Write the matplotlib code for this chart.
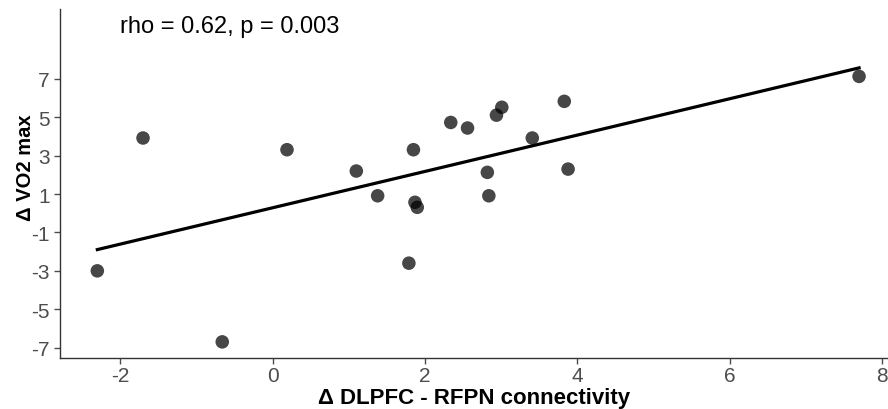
"""
Scatter of change in VO2 max against change in DLPFC - RFPN connectivity,
with a least squares line.
"""
import numpy as np
import matplotlib
matplotlib.use('Agg')
import matplotlib.pyplot as plt

plt.rcParams['font.family'] = ['Liberation Sans', 'DejaVu Sans']
plt.rcParams['axes.unicode_minus'] = False

# data
connectivity = [-2.30, -1.70, -0.66, 0.19, 1.10, 1.38, 1.85, 1.87, 1.90, 1.79,
                2.34, 2.56, 2.82, 2.84, 2.94, 3.01, 3.41, 3.83, 3.88, 7.70]
vo2_change = [-3.0, 3.92, -6.7, 3.31, 2.20, 0.91, 3.31, 0.57, 0.31, -2.6,
              4.73, 4.44, 2.13, 0.91, 5.11, 5.52, 3.92, 5.83, 2.30, 7.13]
x_ticks = [-2, 0, 2, 4, 6, 8]
y_ticks = [-7, -5, -3, -1, 1, 3, 5, 7]
stats_text = 'rho = 0.62, p = 0.003'

x = np.array(connectivity)
y = np.array(vo2_change)

# initialize figure
fig = plt.figure(figsize=(8.88, 4.10), dpi=100)
ax = fig.add_axes([60/888, 51/410, 828/888, 349/410])

# points and fitted line
ax.scatter(x, y, s=95, color='black', alpha=0.72, edgecolors='none', zorder=3)
slope, intercept = np.polyfit(x, y, 1)
xfit = np.array([x.min(), x.max()])
ax.plot(xfit, slope*xfit + intercept, color='black', linewidth=2.3, zorder=2)

ax.text(-2.0, 9.75, stats_text, fontsize=17, ha='left', va='center', color='black')

# format axes
ax.set_xlim(-2.79, 8.08)
ax.set_ylim(-7.54, 10.64)
ax.set_xticks(x_ticks)
ax.set_yticks(y_ticks)
ax.tick_params(axis='both', labelsize=15, colors='#4d4d4d', length=4, width=1)
ax.tick_params(axis='x', pad=1.5)
for side in ['top', 'right']:
    ax.spines[side].set_visible(False)
for side in ['left', 'bottom']:
    ax.spines[side].set_color('#333333')
    ax.spines[side].set_linewidth(1)

ax.set_xlabel('Δ DLPFC - RFPN connectivity', fontsize=16, fontweight='bold')
ax.xaxis.set_label_coords(0.5, -0.114)
ax.xaxis.label.set_va('center')

# y label in the reference is narrower and sits a bit above centre
ax.set_ylabel('Δ VO2 max', fontsize=14.5, fontweight='bold',
              family=['Liberation Sans Narrow', 'Liberation Sans', 'DejaVu Sans'])
ax.yaxis.set_label_coords(-0.042, 0.547)
ax.yaxis.label.set_va('center')

fig.savefig('out.png', dpi=100)
